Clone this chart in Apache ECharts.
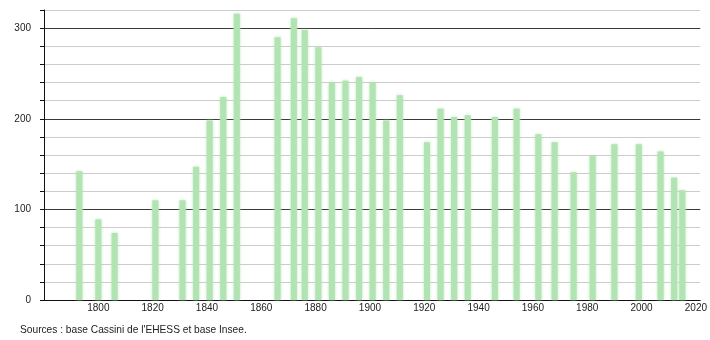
<!DOCTYPE html>
<html>
<head>
<meta charset="utf-8">
<script src="https://cdn.jsdelivr.net/npm/echarts@6/dist/echarts.min.js"></script>
<style>
html,body{margin:0;padding:0;background:#fff;}
#chart{width:710px;height:340px;}
</style>
</head>
<body>
<div id="chart"></div>
<script>
const years = [1793, 1800, 1806, 1821, 1831, 1836, 1841, 1846, 1851, 1866, 1872, 1876, 1881, 1886, 1891, 1896, 1901, 1906, 1911, 1921, 1926, 1931, 1936, 1946, 1954, 1962, 1968, 1975, 1982, 1990, 1999, 2007, 2012, 2015];
const population = [142, 89, 74, 110, 110, 147, 198, 224, 316, 290, 311, 298, 279, 240, 242, 246, 240, 198, 226, 174, 211, 202, 204, 202, 211, 183, 174, 141, 159, 172, 172, 164, 135, 121];
const yTickLabels = [0, 100, 200, 300];
const xTickLabels = [1800, 1820, 1840, 1860, 1880, 1900, 1920, 1940, 1960, 1980, 2000, 2020];
const sourceText = "Sources : base Cassini de l'EHESS et base Insee.";

const chart = echarts.init(document.getElementById('chart'));
const font = 'Liberation Sans, Arial, sans-serif';
chart.setOption({
  animation: false,
  backgroundColor: '#fff',
  grid: {left: 44, right: 9.5, top: 10, bottom: 40, containLabel: false},
  graphic: [{
    type: 'text', left: 20, top: 325,
    style: {text: sourceText, fill: '#222', font: '10.2px ' + font}
  }],
  xAxis: {
    type: 'value', min: 1780, max: 2021.6, interval: 20,
    axisLine: {show: true, onZero: false, lineStyle: {color: '#111', width: 1}},
    axisTick: {show: false},
    splitLine: {show: false},
    axisLabel: {
      color: '#222', fontSize: 10, fontFamily: font, margin: 3,
      showMinLabel: true, showMaxLabel: true,
      formatter: v => xTickLabels.indexOf(v) >= 0 ? String(v) : ''
    }
  },
  yAxis: [{
    type: 'value', min: 0, max: 320, interval: 20,
    axisLine: {show: true, lineStyle: {color: '#111', width: 1}},
    axisTick: {show: true, length: 4, lineStyle: {color: '#111'}},
    axisLabel: {show: false},
    splitLine: {show: true, showMinLine: false, showMaxLine: true, lineStyle: {color: '#cccccc', width: 1}}
  }, {
    type: 'value', min: 0, max: 320, interval: 100, position: 'left',
    axisLine: {show: false},
    axisTick: {show: false},
    axisLabel: {
      color: '#222', fontSize: 10, fontFamily: font, margin: 13,
      formatter: v => yTickLabels.indexOf(v) >= 0 ? String(v) : ''
    },
    splitLine: {show: true, showMinLine: false, showMaxLine: false, lineStyle: {color: '#3a3a3a', width: 1}}
  }],
  series: [{
    type: 'bar',
    yAxisIndex: 0,
    barWidth: 6,
    data: years.map((y, i) => [y, population[i]]),
    itemStyle: {
      color: '#b2e3b2',
      shadowBlur: 3, shadowColor: 'rgba(178,227,178,0.9)'
    }
  }]
});
</script>
</body>
</html>
